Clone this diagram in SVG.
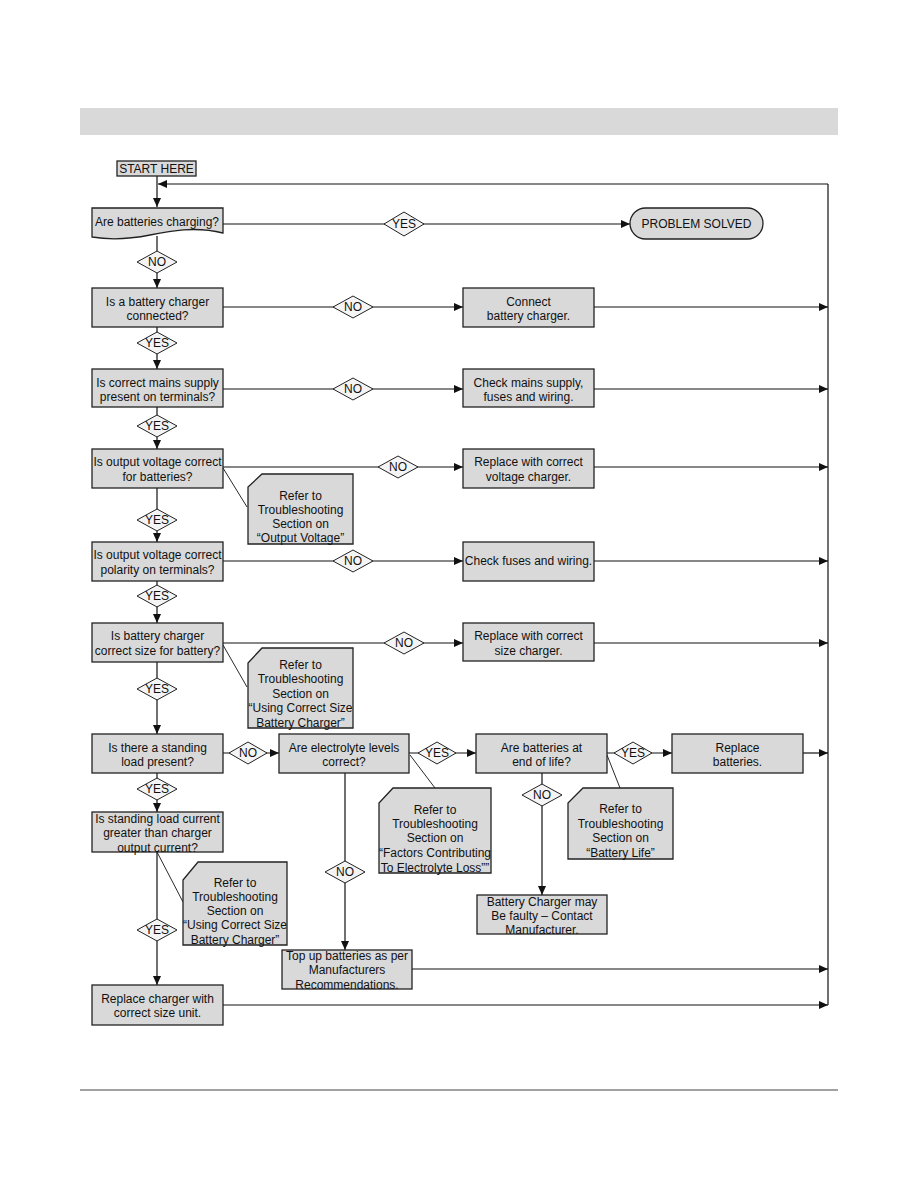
<svg xmlns="http://www.w3.org/2000/svg" width="918" height="1188" viewBox="0 0 918 1188">
<defs>
<marker id="ah" markerWidth="9" markerHeight="8" refX="9" refY="4" orient="auto" markerUnits="userSpaceOnUse"><path d="M0,0 L9,4 L0,8 Z" fill="#111"/></marker>
<style>
.bx{fill:#d9d9d9;stroke:#222;stroke-width:1.3}
.dm{fill:#f4f4f4;stroke:#222;stroke-width:1}
.t{font-family:"Liberation Sans",Arial,sans-serif;font-size:12px;fill:#111;text-anchor:middle}
.c{stroke:#111;stroke-width:1.2;fill:none}
.ca{stroke:#111;stroke-width:1.2;fill:none;marker-end:url(#ah)}
.l{stroke:#111;stroke-width:0.9;fill:none}
</style>
</defs>
<rect width="918" height="1188" fill="#fff"/>
<rect x="80" y="108" width="758" height="27" fill="#d9d9d9"/>
<line x1="80" y1="1090" x2="838" y2="1090" stroke="#444" stroke-width="1"/>

<g id="connectors">
<line class="ca" x1="157" y1="176" x2="157" y2="207"/>
<line class="c" x1="828" y1="184" x2="828" y2="1005"/>
<line class="ca" x1="828" y1="184" x2="158" y2="184"/>
<line class="ca" x1="223" y1="224" x2="630" y2="224"/>
<line class="ca" x1="157" y1="236" x2="157" y2="288"/>
<line class="ca" x1="223" y1="307" x2="463" y2="307"/>
<line class="ca" x1="594" y1="307" x2="828" y2="307"/>
<line class="ca" x1="157" y1="327" x2="157" y2="369"/>
<line class="ca" x1="223" y1="389" x2="463" y2="389"/>
<line class="ca" x1="594" y1="389" x2="828" y2="389"/>
<line class="ca" x1="157" y1="407" x2="157" y2="449"/>
<line class="ca" x1="223" y1="467" x2="463" y2="467"/>
<line class="ca" x1="594" y1="467" x2="828" y2="467"/>
<line class="ca" x1="157" y1="488" x2="157" y2="542"/>
<line class="ca" x1="223" y1="561" x2="463" y2="561"/>
<line class="ca" x1="594" y1="561" x2="828" y2="561"/>
<line class="ca" x1="157" y1="581" x2="157" y2="623"/>
<line class="ca" x1="223" y1="643" x2="463" y2="643"/>
<line class="ca" x1="594" y1="643" x2="828" y2="643"/>
<line class="ca" x1="157" y1="662" x2="157" y2="734"/>
<line class="ca" x1="223" y1="753" x2="279" y2="753"/>
<line class="ca" x1="409" y1="753" x2="476" y2="753"/>
<line class="ca" x1="607" y1="753" x2="672" y2="753"/>
<line class="ca" x1="803" y1="753" x2="828" y2="753"/>
<line class="ca" x1="157" y1="773" x2="157" y2="812"/>
<line class="ca" x1="157" y1="852" x2="157" y2="985"/>
<line class="ca" x1="345" y1="773" x2="345" y2="950"/>
<line class="ca" x1="542" y1="773" x2="542" y2="895"/>
<line class="ca" x1="412" y1="969" x2="828" y2="969"/>
<line class="ca" x1="223" y1="1005" x2="828" y2="1005"/>
<line class="l" x1="223" y1="468" x2="247" y2="507"/>
<line class="l" x1="223" y1="645" x2="247" y2="687"/>
<line class="l" x1="410" y1="755" x2="435" y2="788"/>
<line class="l" x1="607" y1="755" x2="620" y2="788"/>
<line class="l" x1="157" y1="852" x2="183" y2="902"/>
</g>

<g id="labels">
<g id="d1"><polygon class="dm" points="384,224 404,212 424,224 404,236"/><text class="t" x="404" y="228">YES</text></g>
<g id="d2"><polygon class="dm" points="137,262 157,251 177,262 157,273"/><text class="t" x="157" y="266">NO</text></g>
<g id="d3"><polygon class="dm" points="333,307 353,296 373,307 353,318"/><text class="t" x="353" y="311">NO</text></g>
<g id="d4"><polygon class="dm" points="137,343 157,332 177,343 157,354"/><text class="t" x="157" y="347">YES</text></g>
<g id="d5"><polygon class="dm" points="333,389 353,378 373,389 353,400"/><text class="t" x="353" y="393">NO</text></g>
<g id="d6"><polygon class="dm" points="137,426 157,415 177,426 157,437"/><text class="t" x="157" y="430">YES</text></g>
<g id="d7"><polygon class="dm" points="378,467 398,456 418,467 398,478"/><text class="t" x="398" y="471">NO</text></g>
<g id="d8"><polygon class="dm" points="137,520 157,509 177,520 157,531"/><text class="t" x="157" y="524">YES</text></g>
<g id="d9"><polygon class="dm" points="333,561 353,550 373,561 353,572"/><text class="t" x="353" y="565">NO</text></g>
<g id="d10"><polygon class="dm" points="137,596 157,585 177,596 157,607"/><text class="t" x="157" y="600">YES</text></g>
<g id="d11"><polygon class="dm" points="384,643 404,632 424,643 404,654"/><text class="t" x="404" y="647">NO</text></g>
<g id="d12"><polygon class="dm" points="137,689 157,678 177,689 157,700"/><text class="t" x="157" y="693">YES</text></g>
<g id="d13"><polygon class="dm" points="229,753 248,742 267,753 248,764"/><text class="t" x="248" y="757">NO</text></g>
<g id="d14"><polygon class="dm" points="418,753 437,742 456,753 437,764"/><text class="t" x="437" y="757">YES</text></g>
<g id="d15"><polygon class="dm" points="614,753 633,742 652,753 633,764"/><text class="t" x="633" y="757">YES</text></g>
<g id="d16"><polygon class="dm" points="137,789 157,778 177,789 157,800"/><text class="t" x="157" y="793">YES</text></g>
<g id="d17"><polygon class="dm" points="522,795 542,784 562,795 542,806"/><text class="t" x="542" y="799">NO</text></g>
<g id="d18"><polygon class="dm" points="325,872 345,861 365,872 345,883"/><text class="t" x="345" y="876">NO</text></g>
<g id="d19"><polygon class="dm" points="137,930 157,919 177,930 157,941"/><text class="t" x="157" y="934">YES</text></g>
</g>

<g id="start"><rect class="bx" x="117" y="161" width="79" height="15"/><text class="t" x="156.5" y="173">START HERE</text></g>
<g id="q1"><path class="bx" d="M92,208 H223 V233 C195,226 170,231 150,235 C130,239 110,240 92,237 Z"/><text class="t" x="157" y="226">Are batteries charging?</text></g>
<g id="solved"><rect class="bx" x="630" y="208" width="133" height="31" rx="15.5"/><text class="t" x="696.5" y="228">PROBLEM SOLVED</text></g>
<g id="q2"><rect class="bx" x="92" y="288" width="131" height="39"/><text class="t" x="157.5" y="306">Is a battery charger</text><text class="t" x="157.5" y="320">connected?</text></g>
<g id="a1"><rect class="bx" x="463" y="288" width="131" height="39"/><text class="t" x="528.5" y="306">Connect</text><text class="t" x="528.5" y="320">battery charger.</text></g>
<g id="q3"><rect class="bx" x="92" y="369" width="131" height="38"/><text class="t" x="157.5" y="386.5">Is correct mains supply</text><text class="t" x="157.5" y="401">present on terminals?</text></g>
<g id="a2"><rect class="bx" x="463" y="369" width="131" height="38"/><text class="t" x="528.5" y="386.5">Check mains supply,</text><text class="t" x="528.5" y="401">fuses and wiring.</text></g>
<g id="q4"><rect class="bx" x="92" y="449" width="131" height="39"/><text class="t" x="157.5" y="466">Is output voltage correct</text><text class="t" x="157.5" y="481">for batteries?</text></g>
<g id="a3"><rect class="bx" x="463" y="449" width="131" height="39"/><text class="t" x="528.5" y="466">Replace with correct</text><text class="t" x="528.5" y="481">voltage charger.</text></g>
<g id="n1"><polygon class="bx" points="262,474 353,474 353,544 248,544 248,487"/><text class="t" x="300.5" y="500">Refer to</text><text class="t" x="300.5" y="514">Troubleshooting</text><text class="t" x="300.5" y="528">Section on</text><text class="t" x="300.5" y="542">“Output Voltage”</text></g>
<g id="q5"><rect class="bx" x="92" y="542" width="131" height="39"/><text class="t" x="157.5" y="559">Is output voltage correct</text><text class="t" x="157.5" y="574">polarity on terminals?</text></g>
<g id="a4"><rect class="bx" x="463" y="542" width="131" height="39"/><text class="t" x="528.5" y="565">Check fuses and wiring.</text></g>
<g id="q6"><rect class="bx" x="92" y="623" width="131" height="39"/><text class="t" x="157.5" y="640">Is battery charger</text><text class="t" x="157.5" y="655">correct size for battery?</text></g>
<g id="a5"><rect class="bx" x="463" y="623" width="131" height="38"/><text class="t" x="528.5" y="640">Replace with correct</text><text class="t" x="528.5" y="655">size charger.</text></g>
<g id="n2"><polygon class="bx" points="262,648 353,648 353,728 248,728 248,663"/><text class="t" x="300.5" y="668.5">Refer to</text><text class="t" x="300.5" y="683">Troubleshooting</text><text class="t" x="300.5" y="697.5">Section on</text><text class="t" x="300.5" y="712">“Using Correct Size</text><text class="t" x="300.5" y="726.5">Battery Charger”</text></g>
<g id="q7"><rect class="bx" x="92" y="734" width="131" height="39"/><text class="t" x="157.5" y="751.5">Is there a standing</text><text class="t" x="157.5" y="766">load present?</text></g>
<g id="q8"><rect class="bx" x="279" y="734" width="130" height="39"/><text class="t" x="344" y="751.5">Are electrolyte levels</text><text class="t" x="344" y="766">correct?</text></g>
<g id="q9"><rect class="bx" x="476" y="734" width="131" height="39"/><text class="t" x="541.5" y="751.5">Are batteries at</text><text class="t" x="541.5" y="766">end of life?</text></g>
<g id="a6"><rect class="bx" x="672" y="734" width="131" height="39"/><text class="t" x="737.5" y="751.5">Replace</text><text class="t" x="737.5" y="766">batteries.</text></g>
<g id="n3"><polygon class="bx" points="393,788 491,788 491,873 379,873 379,803"/><text class="t" x="435" y="813.5">Refer to</text><text class="t" x="435" y="828">Troubleshooting</text><text class="t" x="435" y="842">Section on</text><text class="t" x="435" y="857">“Factors Contributing</text><text class="t" x="435" y="872">To Electrolyte Loss””</text></g>
<g id="n4"><polygon class="bx" points="583,788 673,788 673,859 568,859 568,803"/><text class="t" x="620.5" y="813">Refer to</text><text class="t" x="620.5" y="827.5">Troubleshooting</text><text class="t" x="620.5" y="842">Section on</text><text class="t" x="620.5" y="856.5">“Battery Life”</text></g>
<g id="q10"><rect class="bx" x="92" y="812" width="131" height="40"/><text class="t" x="157.5" y="822.5">Is standing load current</text><text class="t" x="157.5" y="837">greater than charger</text><text class="t" x="157.5" y="851.5">output current?</text></g>
<g id="n5"><polygon class="bx" points="198,862 287,862 287,945 183,945 183,880"/><text class="t" x="235" y="886.5">Refer to</text><text class="t" x="235" y="901">Troubleshooting</text><text class="t" x="235" y="914.5">Section on</text><text class="t" x="235" y="929">“Using Correct Size</text><text class="t" x="235" y="943.5">Battery Charger”</text></g>
<g id="a7"><rect class="bx" x="477" y="895" width="130" height="39"/><text class="t" x="542" y="906">Battery Charger may</text><text class="t" x="542" y="920">Be faulty – Contact</text><text class="t" x="542" y="934">Manufacturer.</text></g>
<g id="a8"><rect class="bx" x="282" y="950" width="130" height="39"/><text class="t" x="347" y="960">Top up batteries as per</text><text class="t" x="347" y="974">Manufacturers</text><text class="t" x="347" y="989">Recommendations.</text></g>
<g id="a9"><rect class="bx" x="92" y="985" width="131" height="40"/><text class="t" x="157.5" y="1003">Replace charger with</text><text class="t" x="157.5" y="1017">correct size unit.</text></g>
</svg>
